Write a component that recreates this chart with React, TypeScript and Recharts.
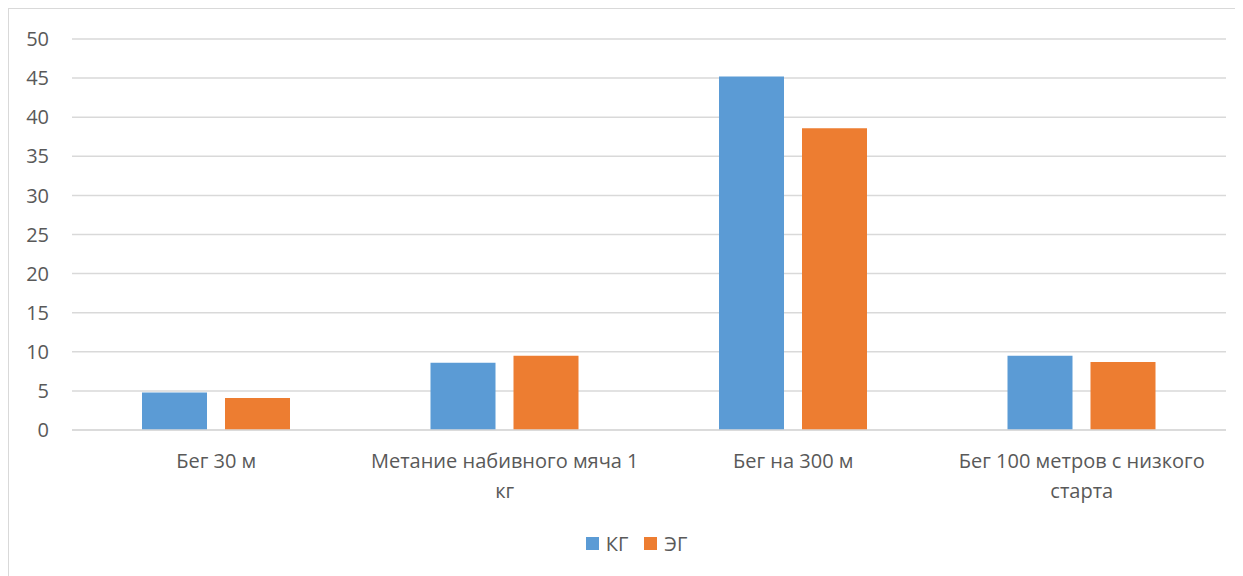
import React from 'react';
import { BarChart, Bar, XAxis, YAxis, CartesianGrid, Legend } from 'recharts';

const categories = [
    'Бег 30 м',
    'Метание набивного мяча 1 кг',
    'Бег на 300 м',
    'Бег 100 метров с низкого старта',
];
const kgValues = [4.8, 8.6, 45.2, 9.5];
const egValues = [4.1, 9.5, 38.6, 8.7];
const yTicks = [0, 5, 10, 15, 20, 25, 30, 35, 40, 45, 50];

const seriesMeta = [
    { key: 'kg', name: 'КГ', color: '#5B9BD5' },
    { key: 'eg', name: 'ЭГ', color: '#ED7D31' },
];

const data = categories.map((name, i) => ({ name, kg: kgValues[i], eg: egValues[i] }));

const FONT = '"Open Sans", "Noto Sans", sans-serif';
const TEXT_COLOR = '#595959';
const FONT_SIZE = 20;

let measureCtx: CanvasRenderingContext2D | null = null;
const measure = (s: string) => {
    if (!measureCtx) {
        measureCtx = document.createElement('canvas').getContext('2d');
    }
    if (!measureCtx) return s.length * FONT_SIZE * 0.55;
    measureCtx.font = `${FONT_SIZE}px ${FONT}`;
    return measureCtx.measureText(s).width;
};

// greedy word wrap, like Excel does for long category names
const wrapLabel = (label: string, maxWidth: number) => {
    const words = label.split(' ');
    const lines: string[] = [];
    let cur = '';
    words.forEach((w) => {
        const next = cur ? `${cur} ${w}` : w;
        if (cur && measure(next) > maxWidth) {
            lines.push(cur);
            cur = w;
        } else {
            cur = next;
        }
    });
    if (cur) lines.push(cur);
    return lines;
};

const CategoryTick = (props: any) => {
    const { x, y, payload } = props;
    const lines = wrapLabel(String(payload.value), 280);
    return (
        <text
            x={x}
            y={y + 38}
            textAnchor="middle"
            style={{ fontFamily: FONT, fontSize: FONT_SIZE, fill: TEXT_COLOR }}
        >
            {lines.map((line, i) => (
                <tspan key={i} x={x} dy={i === 0 ? 0 : 30}>
                    {line}
                </tspan>
            ))}
        </text>
    );
};

const LegendContent = () => (
    <div
        style={{
            height: 66,
            display: 'flex',
            justifyContent: 'center',
            alignItems: 'center',
            fontFamily: FONT,
            fontSize: FONT_SIZE,
            color: TEXT_COLOR,
            paddingLeft: 54,
        }}
    >
        {seriesMeta.map((s) => (
            <div key={s.key} style={{ display: 'flex', alignItems: 'center', marginRight: 16 }}>
                <span style={{ width: 13, height: 13, background: s.color, display: 'inline-block', marginRight: 7 }} />
                <span>{s.name}</span>
            </div>
        ))}
    </div>
);

export default function App() {
    return (
        <div
            style={{
                width: 1234,
                height: 567,
                borderLeft: '1px solid #d9d9d9',
                borderTop: '1px solid #d9d9d9',
                background: '#fff',
            }}
        >
            <BarChart
                width={1234}
                height={567}
                data={data}
                margin={{ top: 30, right: 17, left: 0, bottom: 0 }}
                barSize={65}
                barGap={18}
            >
                <CartesianGrid vertical={false} stroke="#d9d9d9" strokeWidth={1.5} />
                <XAxis
                    dataKey="name"
                    axisLine={{ stroke: '#d9d9d9', strokeWidth: 1.5 }}
                    tickLine={false}
                    tickSize={0}
                    tickMargin={0}
                    height={80}
                    interval={0}
                    tick={<CategoryTick />}
                />
                <YAxis
                    domain={[0, 50]}
                    ticks={yTicks}
                    axisLine={false}
                    tickLine={false}
                    tickSize={0}
                    tickMargin={23}
                    width={63}
                    tick={{ fontFamily: FONT, fontSize: FONT_SIZE, fill: TEXT_COLOR }}
                />
                <Legend verticalAlign="bottom" content={<LegendContent />} />
                {seriesMeta.map((s) => (
                    <Bar key={s.key} dataKey={s.key} name={s.name} fill={s.color} isAnimationActive={false} />
                ))}
            </BarChart>
        </div>
    );
}
